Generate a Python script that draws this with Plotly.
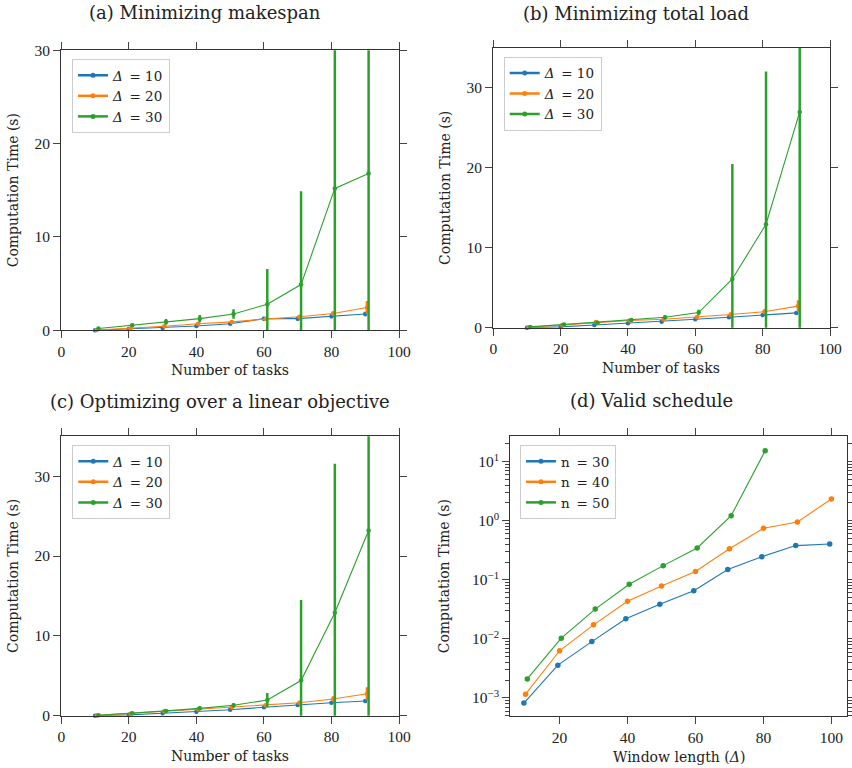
import plotly.graph_objects as go

# ---------------- data ----------------
tasks = [10, 20, 30, 40, 50, 60, 70, 80, 90]
deltas = ["10", "20", "30"]

# (a) Minimizing makespan
a_d10 = [0.0, 0.13, 0.25, 0.46, 0.70, 1.25, 1.25, 1.50, 1.75]
a_d20 = [0.04, 0.20, 0.43, 0.70, 0.90, 1.20, 1.45, 1.80, 2.45]
a_d30 = [0.20, 0.55, 0.90, 1.25, 1.75, 2.80, 4.90, 15.2, 16.8]
a_e10 = [0.05, 0.08, 0.10, 0.12, 0.15, 0.20, 0.20, 0.20, 0.25]
a_e20 = [0.05, 0.08, 0.10, 0.12, 0.15, 0.20, 0.20, 0.25, 0.70]
a_e30 = [0.15, 0.20, 0.30, 0.40, 0.50, 3.77, 10.0, 20.0, 20.0]

# (b) Minimizing total load
b_d10 = [0.0, 0.10, 0.33, 0.55, 0.75, 1.05, 1.30, 1.60, 1.85]
b_d20 = [0.05, 0.33, 0.70, 0.90, 1.05, 1.33, 1.65, 2.00, 2.70]
b_d30 = [0.10, 0.40, 0.62, 0.95, 1.30, 1.90, 6.10, 12.95, 27.0]
b_e10 = [0.05, 0.08, 0.10, 0.12, 0.15, 0.15, 0.20, 0.20, 0.20]
b_e20 = [0.05, 0.08, 0.10, 0.12, 0.15, 0.20, 0.25, 0.30, 0.75]
b_e30 = [0.10, 0.15, 0.20, 0.20, 0.25, 0.35, 14.4, 19.1, 30.0]

# (c) Optimizing over a linear objective
c_d10 = [0.0, 0.10, 0.30, 0.50, 0.75, 1.05, 1.35, 1.63, 1.85]
c_d20 = [0.04, 0.25, 0.55, 0.80, 1.05, 1.30, 1.63, 2.10, 2.75]
c_d30 = [0.05, 0.30, 0.60, 0.92, 1.30, 1.96, 4.40, 12.9, 23.2]
c_e10 = [0.05, 0.08, 0.10, 0.12, 0.15, 0.15, 0.20, 0.20, 0.25]
c_e20 = [0.05, 0.08, 0.10, 0.12, 0.15, 0.20, 0.25, 0.35, 0.80]
c_e30 = [0.10, 0.15, 0.20, 0.25, 0.25, 0.88, 10.1, 18.65, 25.0]

# (d) Valid schedule
window = [10, 20, 30, 40, 50, 60, 70, 80, 90, 100]
window_n50 = [10, 20, 30, 40, 50, 60, 70, 80]
n_labels = ["30", "40", "50"]
d_n30 = [0.00082, 0.0036, 0.0090, 0.022, 0.0386, 0.0656, 0.149, 0.247, 0.38, 0.405]
d_n40 = [0.00116, 0.0063, 0.0173, 0.0435, 0.079, 0.138, 0.337, 0.746, 0.955, 2.34]
d_n50 = [0.0021, 0.0103, 0.032, 0.084, 0.174, 0.347, 1.22, 15.3]

titles = ["(a) Minimizing makespan", "(b) Minimizing total load",
          "(c) Optimizing over a linear objective", "(d) Valid schedule"]

# ---------------- style ----------------
W, H = 852, 768
COLORS = ["#1f77b4", "#ff7f0e", "#2ca02c"]
FONT = "DejaVu Serif"
NUMFONT = "Liberation Serif"
TXT = "#222222"
SPINE = "#333333"

fig = go.Figure()

def px_dom(x0, x1, y0, y1):
    return [x0 / W, x1 / W], [1 - y1 / H, 1 - y0 / H]

panels = [
    dict(xa="x", ya="y", dom=px_dom(61.3, 399.0, 50.3, 330.3), yr=[0, 30]),
    dict(xa="x2", ya="y2", dom=px_dom(493.3, 830.0, 48.0, 327.7), yr=[0, 35]),
    dict(xa="x3", ya="y3", dom=px_dom(61.3, 399.0, 436.3, 715.7), yr=[0, 35]),
    dict(xa="x4", ya="y4", dom=px_dom(510.3, 846.7, 436.3, 716.3), yr=None),
]

sets = [
    ([a_d10, a_d20, a_d30], [a_e10, a_e20, a_e30]),
    ([b_d10, b_d20, b_d30], [b_e10, b_e20, b_e30]),
    ([c_d10, c_d20, c_d30], [c_e10, c_e20, c_e30]),
]
offsets = [0.0, 0.5, 1.0]
legend_names = ["legend", "legend2", "legend3", "legend4"]

for p, (vals, errs) in enumerate(sets):
    pan = panels[p]
    for k in range(3):
        xs = [t + offsets[k] for t in tasks]
        fig.add_trace(go.Scatter(
            x=xs, y=vals[k], mode="lines+markers",
            line=dict(color=COLORS[k], width=1.1),
            marker=dict(color=COLORS[k], size=4.5),
            error_y=dict(type="data", array=errs[k], color=COLORS[k],
                         thickness=2.5, width=0, visible=True),
            showlegend=False, cliponaxis=False,
            xaxis=pan["xa"], yaxis=pan["ya"]))
    for k in range(3):
        fig.add_trace(go.Scatter(
            x=[None], y=[None], mode="lines+markers",
            name=f"<i>Δ</i>\u2002= {deltas[k]}",
            line=dict(color=COLORS[k], width=2.5),
            marker=dict(color=COLORS[k], size=5),
            legend=legend_names[p],
            xaxis=pan["xa"], yaxis=pan["ya"]))

# panel d
d_sets = [(window, d_n30, -0.5), (window, d_n40, 0.0), (window_n50, d_n50, 0.5)]
for k, (xw, yv, off) in enumerate(d_sets):
    fig.add_trace(go.Scatter(
        x=[w + off for w in xw], y=yv, mode="lines+markers",
        line=dict(color=COLORS[k], width=1.1),
        marker=dict(color=COLORS[k], size=5.5),
        showlegend=False, cliponaxis=False,
        xaxis="x4", yaxis="y4"))
for k in range(3):
    fig.add_trace(go.Scatter(
        x=[None], y=[None], mode="lines+markers",
        name=f"n\u2002= {n_labels[k]}",
        line=dict(color=COLORS[k], width=2.5),
        marker=dict(color=COLORS[k], size=5),
        legend="legend4", xaxis="x4", yaxis="y4"))

axis_common = dict(showline=True, linecolor=SPINE, linewidth=1.2, mirror="ticks",
                   ticks="outside", ticklen=7, tickwidth=1, tickcolor="#444444",
                   showgrid=False, zeroline=False, automargin=False,
                   tickfont=dict(family=NUMFONT, size=15.5, color=TXT))

layout = dict(width=W, height=H,
              margin=dict(l=0, r=0, t=0, b=0, pad=0, autoexpand=False),
              paper_bgcolor="white", plot_bgcolor="white",
              font=dict(family=FONT, color=TXT))

for i, pan in enumerate(panels):
    sfx = "" if i == 0 else str(i + 1)
    xd, yd = pan["dom"]
    xa = dict(axis_common, domain=xd, anchor="y" + sfx)
    ya = dict(axis_common, domain=yd, anchor="x" + sfx)
    if i < 3:
        xa.update(range=[0, 100], tickvals=[0, 20, 40, 60, 80, 100])
        ya.update(range=pan["yr"], tickvals=[0, 10, 20, 30])
    else:
        xa.update(range=[5.5, 104.5], tickvals=[20, 40, 60, 80, 100])
        major = [1e-3, 1e-2, 1e-1, 1, 10]
        minor = [m * d for d in [1e-4, 1e-3, 1e-2, 1e-1, 1, 10] for m in range(2, 10)]
        ya.update(type="log", range=[-3.31, 1.43], tickvals=major,
                  ticktext=["10<sup>−3</sup>", "10<sup>−2</sup>", "10<sup>−1</sup>",
                            "10<sup>0</sup>", "10<sup>1</sup>"],
                  minor=dict(tickvals=minor, ticks="outside", ticklen=4,
                             tickcolor="#444444", showgrid=False))
    layout["xaxis" + sfx] = xa
    layout["yaxis" + sfx] = ya

legend_pos = [(72, 59), (503.7, 56.7), (72.3, 445), (520, 445)]
for i, (lx, ly) in enumerate(legend_pos):
    layout[legend_names[i]] = dict(
        x=lx / W, y=1 - ly / H, xanchor="left", yanchor="top",
        bgcolor="rgba(255,255,255,0.85)", bordercolor="#cccccc", borderwidth=1,
        font=dict(family=FONT, size=13.5, color=TXT), tracegroupgap=0,
        itemwidth=30)

fig.update_layout(**layout)

ann = []
title_pos = [(204.7, 12.5), (635.5, 13), (219.5, 401), (651, 400.5)]
for t, (tx, ty) in zip(titles, title_pos):
    ann.append(dict(text=t, x=tx / W, y=1 - ty / H, xref="paper", yref="paper",
                    showarrow=False, xanchor="center", yanchor="middle",
                    font=dict(family=FONT, size=18, color=TXT)))
xt = [("Number of tasks", 230, 369.5), ("Number of tasks", 661, 368.3),
      ("Number of tasks", 230, 756.3), ("Window length (<i>Δ</i>)", 678.5, 757.3)]
for t, tx, ty in xt:
    ann.append(dict(text=t, x=tx / W, y=1 - ty / H, xref="paper", yref="paper",
                    showarrow=False, xanchor="center", yanchor="middle",
                    font=dict(family=FONT, size=14, color=TXT)))
yt = [(13, 190.3), (445, 188), (13, 576), (444, 576.3)]
for tx, ty in yt:
    ann.append(dict(text="Computation Time (s)", x=tx / W, y=1 - ty / H,
                    xref="paper", yref="paper", textangle=-90,
                    showarrow=False, xanchor="center", yanchor="middle",
                    font=dict(family=FONT, size=14, color=TXT)))
fig.update_layout(annotations=ann)

fig.write_html(
    "out.html",
    config={"displayModeBar": False},
    post_script=("document.body.style.margin='0px';"
                 "document.body.style.padding='0px';"
                 "document.documentElement.style.overflow='hidden';"
                 "document.body.style.overflow='hidden';"))
